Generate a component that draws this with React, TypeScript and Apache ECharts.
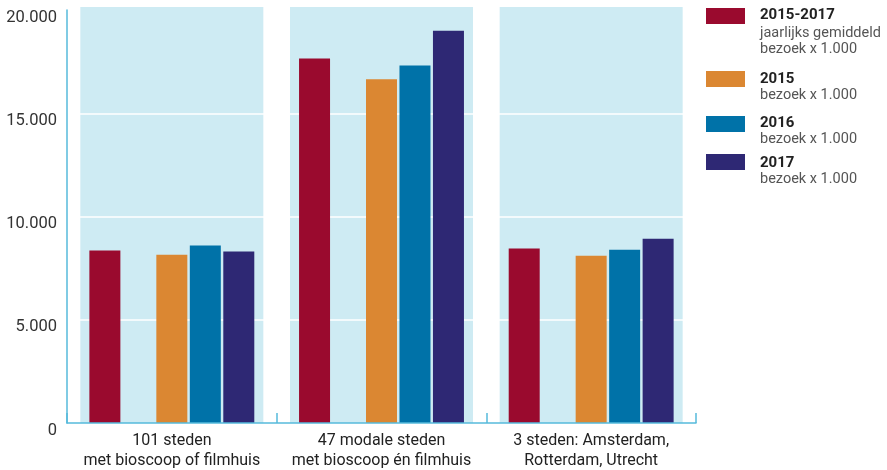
import React, { useEffect, useRef } from "react";
import * as echarts from "echarts";

const categories = [
  "101 steden\nmet bioscoop of filmhuis",
  "47 modale steden\nmet bioscoop én filmhuis",
  "3 steden: Amsterdam,\nRotterdam, Utrecht",
];
const avg2015_2017 = [8350, 17650, 8450];
const y2015 = [8150, 16650, 8100];
const y2016 = [8590, 17310, 8390];
const y2017 = [8300, 18990, 8920];
const yTicks = [0, 5000, 10000, 15000, 20000];
const panelTop = [20144, 20144, 20144];

const legendItems = [
  { title: "2015-2017", lines: ["jaarlijks gemiddeld", "bezoek x 1.000"], color: "#9A0A2E" },
  { title: "2015", lines: ["bezoek x 1.000"], color: "#DB8732" },
  { title: "2016", lines: ["bezoek x 1.000"], color: "#0072A8" },
  { title: "2017", lines: ["bezoek x 1.000"], color: "#2E2874" },
];
// layout of the hand-drawn legend (pixel positions)
const legendRectY = [8, 71, 116, 154];
const legendTitleY = [14, 78.3, 121.7, 161.7];
const legendFirstSubOffset = [18, 15.8, 16.3, 17];

const AXIS = "#56BADB";
const FONT = "Roboto";

function fmt(v: number): string {
  return String(v).replace(/\B(?=(\d{3})+(?!\d))/g, ".");
}

export default function App() {
  const ref = useRef<HTMLDivElement>(null);
  useEffect(() => {
    if (!ref.current) return;
    const chart = echarts.init(ref.current, undefined, { renderer: "svg" });

    const graphics: any[] = [];
    legendItems.forEach((it, i) => {
      const ry = legendRectY[i];
      graphics.push({
        type: "rect",
        shape: { x: 706, y: ry, width: 39, height: 16 },
        style: { fill: it.color },
        silent: true,
      });
      const titleY = legendTitleY[i];
      graphics.push({
        type: "text",
        x: 760,
        y: titleY,
        style: {
          text: it.title,
          fill: "#222",
          font: `bold 15px ${FONT}`,
          textVerticalAlign: "middle",
        },
        silent: true,
      });
      it.lines.forEach((ln, j) => {
        graphics.push({
          type: "text",
          x: 760,
          y: titleY + legendFirstSubOffset[i] + 16.7 * j,
          style: {
            text: ln,
            fill: "#555",
            font: `normal 14.5px ${FONT}`,
            textVerticalAlign: "middle",
          },
          silent: true,
        });
      });
    });

    const dataBar = (name: string, data: (number | null)[], color: string) => ({
      name,
      type: "bar",
      xAxisIndex: 0,
      data,
      barWidth: 31,
      barGap: "8%",
      itemStyle: { color },
      z: 5,
      silent: true,
    });

    chart.setOption({
      animation: false,
      textStyle: { fontFamily: FONT },
      grid: { left: 67, right: 191, top: 10, bottom: 43, containLabel: false },
      xAxis: [
        {
          type: "category",
          data: categories,
          axisLine: { show: true, lineStyle: { color: AXIS, width: 1.5 } },
          axisTick: { show: true, inside: true, length: 10, lineStyle: { color: AXIS, width: 1.5 } },
          axisLabel: {
            interval: 0,
            color: "#222",
            fontSize: 16,
            lineHeight: 20.5,
            margin: 6,
            fontFamily: FONT,
          },
          splitLine: { show: false },
          z: 10,
        },
        {
          type: "category",
          data: categories,
          show: false,
        },
      ],
      yAxis: {
        type: "value",
        min: 0,
        max: 20000,
        interval: 5000,
        axisLine: { show: true, lineStyle: { color: AXIS, width: 1.5 } },
        axisTick: { show: false },
        splitLine: { show: false },
        axisLabel: {
          margin: 10,
          formatter: (v: number) => "{a|" + fmt(v) + "}",
          rich: {
            a: {
              color: "#333",
              fontSize: 16.5,
              fontFamily: FONT,
              padding: [12, 0, 0, 0],
            },
          },
        },
        z: 10,
      },
      series: [
        {
          name: "panel",
          type: "bar",
          xAxisIndex: 1,
          data: panelTop,
          barWidth: 183,
          clip: false,
          itemStyle: { color: "#CEEBF3" },
          z: 1,
          silent: true,
          markLine: {
            silent: true,
            symbol: "none",
            label: { show: false },
            lineStyle: { color: "#ffffff", width: 1.5, type: "solid" },
            data: yTicks.filter((t) => t > 0 && t < 20000).map((t) => ({ yAxis: t })),
          },
        },
        dataBar("2015-2017", avg2015_2017, "#9A0A2E"),
        dataBar("leeg", [null, null, null], "transparent"),
        dataBar("2015", y2015, "#DB8732"),
        dataBar("2016", y2016, "#0072A8"),
        dataBar("2017", y2017, "#2E2874"),
      ],
      graphic: graphics,
    });
    return () => chart.dispose();
  }, []);
  return (
    <div
      ref={ref}
      style={{ position: "fixed", left: 0, top: 0, width: 887, height: 470 }}
    />
  );
}
